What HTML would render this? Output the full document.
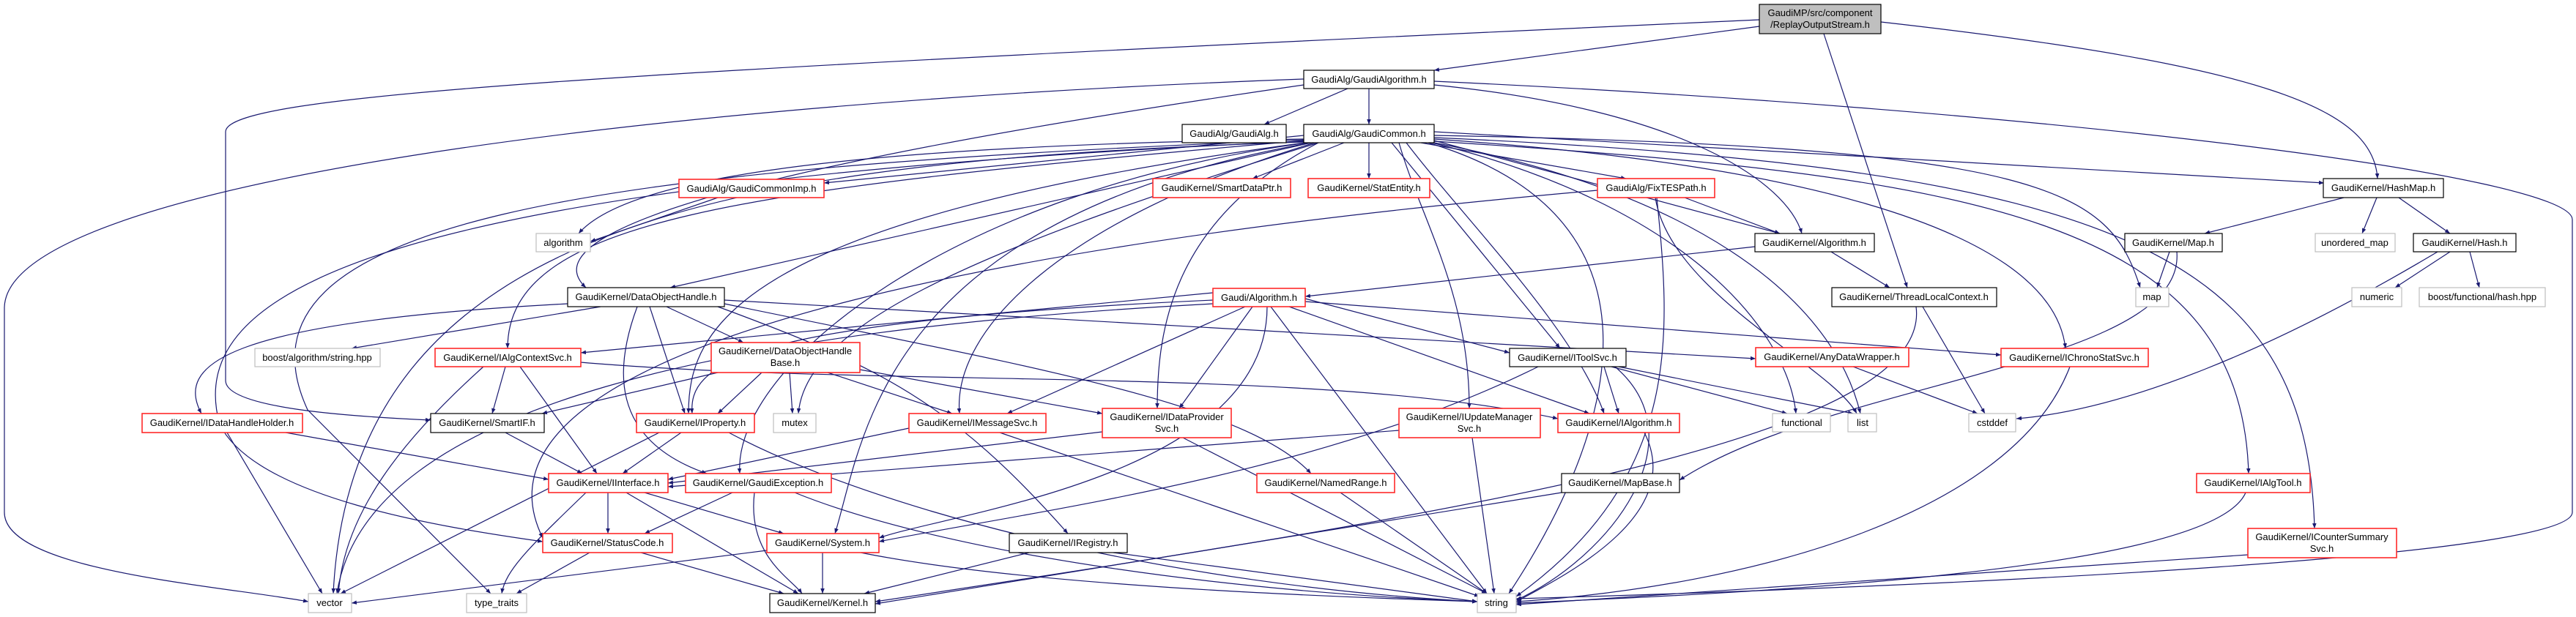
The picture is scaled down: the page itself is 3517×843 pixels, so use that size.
<!DOCTYPE html>
<html><head><meta charset="utf-8">
<style>
html,body{margin:0;padding:0;background:#fff;}
svg{display:block;}
text{font-family:"Liberation Sans",sans-serif;font-size:13px;fill:#000;text-anchor:middle;}
.e{fill:none;stroke:#191970;stroke-width:1.2;marker-end:url(#a);}
.nb{fill:#fff;stroke:#000;stroke-width:1.2;}
.nr{fill:#fff;stroke:#ff2a2a;stroke-width:1.6;}
.ng{fill:#fff;stroke:#bfbfbf;stroke-width:1.2;}
.nt{fill:#bfbfbf;stroke:#000;stroke-width:1.2;}
</style></head><body>
<svg width="3517" height="843" viewBox="0 0 3517 843" xmlns="http://www.w3.org/2000/svg">
<defs><marker id="a" viewBox="0 0 10 10" refX="10" refY="5" markerWidth="7" markerHeight="7" orient="auto" markerUnits="userSpaceOnUse"><path d="M0,1 L10,5 L0,9 z" fill="#191970"/></marker></defs>
<g>
<path class="e" d="M2402,36 L1958,96"/>
<path class="e" d="M2568,30 C3100,90 3240,150 3246,244"/>
<path class="e" d="M2490,46 L2604,393"/>
<path class="e" d="M2402,27 C800,100 308,130 308,180 L308,520 C308,560 500,570 588,574"/>
<path class="e" d="M1840,121 L1726,170"/>
<path class="e" d="M1869,121 L1869,170"/>
<path class="e" d="M1958,116 C2300,150 2440,250 2460,319"/>
<path class="e" d="M1958,111 C2800,150 3512,240 3512,300 L3512,700 C3512,760 2700,800 2070,818"/>
<path class="e" d="M1780,108 C900,140 10,250 6,420 L6,700 C6,780 300,800 421,822"/>
<path class="e" d="M1780,116 C1200,200 700,300 800,393"/>
<path class="e" d="M1835,195 L1710,244"/>
<path class="e" d="M1869,195 L1869,244"/>
<path class="e" d="M1940,195 L2220,244"/>
<path class="e" d="M1780,185 L1125,250"/>
<path class="e" d="M1780,190 C1100,200 850,250 790,319"/>
<path class="e" d="M1790,195 L915,393"/>
<path class="e" d="M1780,192 C1000,260 693,300 693,476"/>
<path class="e" d="M1958,180 L3173,250"/>
<path class="e" d="M1958,185 C2800,200 2880,260 2922,393"/>
<path class="e" d="M1958,190 C2400,220 2800,300 2820,476"/>
<path class="e" d="M1900,195 L2130,476"/>
<path class="e" d="M1958,193 C2700,240 3060,300 3070,647"/>
<path class="e" d="M1958,188 C2900,230 3150,350 3160,722"/>
<path class="e" d="M1910,195 C1940,300 2006,400 2006,558"/>
<path class="e" d="M1920,195 C2000,300 2150,450 2190,565"/>
<path class="e" d="M1800,195 C1600,300 1580,450 1580,558"/>
<path class="e" d="M1795,195 C1450,300 1300,450 1310,565"/>
<path class="e" d="M1785,195 C1300,260 1000,500 1010,647"/>
<path class="e" d="M1790,195 C1200,300 1180,600 1140,729"/>
<path class="e" d="M1780,193 C500,250 250,400 300,580 C350,680 600,720 741,740"/>
<path class="e" d="M1780,194 C1000,220 480,300 455,811"/>
<path class="e" d="M1950,195 C2300,300 2200,600 2060,811"/>
<path class="e" d="M1958,195 C2300,260 2500,400 2540,565"/>
<path class="e" d="M1955,195 C2300,280 2440,450 2452,565"/>
<path class="e" d="M1800,195 C1300,350 1100,450 1090,565"/>
<path class="e" d="M1958,192 L2430,319"/>
<path class="e" d="M1782,195 C1000,300 940,450 940,565"/>
<path class="e" d="M1780,191 C800,230 300,300 420,560 L670,811"/>
<path class="e" d="M980,270 L806,330"/>
<path class="e" d="M2300,270 L2430,319"/>
<path class="e" d="M2260,270 C2280,400 2500,500 2535,565"/>
<path class="e" d="M2181,260 C1500,320 600,450 741,735"/>
<path class="e" d="M2262,270 C2280,450 2300,650 2070,815"/>
<path class="e" d="M2396,337 L1782,405"/>
<path class="e" d="M2500,344 L2580,393"/>
<path class="e" d="M3200,270 L3010,319"/>
<path class="e" d="M3245,270 L3225,319"/>
<path class="e" d="M3275,270 L3345,319"/>
<path class="e" d="M2962,344 L2945,393"/>
<path class="e" d="M2972,344 C2985,500 2500,520 2293,656"/>
<path class="e" d="M3345,344 L3270,393"/>
<path class="e" d="M3372,344 L3385,393"/>
<path class="e" d="M3328,344 C3100,480 2900,560 2753,572"/>
<path class="e" d="M2625,419 L2710,565"/>
<path class="e" d="M2616,419 C2640,600 2000,700 1195,822"/>
<path class="e" d="M820,419 L480,476"/>
<path class="e" d="M910,419 L1015,468"/>
<path class="e" d="M887,419 L935,565"/>
<path class="e" d="M775,415 C300,440 240,500 275,565"/>
<path class="e" d="M870,419 C840,500 830,600 965,647"/>
<path class="e" d="M980,419 C1200,500 1300,550 1458,729"/>
<path class="e" d="M989,410 L2397,490"/>
<path class="e" d="M989,415 C1400,500 1700,550 1790,647"/>
<path class="e" d="M1656,400 L793,482"/>
<path class="e" d="M1782,408 L2061,482"/>
<path class="e" d="M1782,412 L2732,485"/>
<path class="e" d="M1656,410 C1000,440 940,500 945,565"/>
<path class="e" d="M1700,419 L1375,565"/>
<path class="e" d="M1710,419 L1610,558"/>
<path class="e" d="M1735,419 L2030,811"/>
<path class="e" d="M1760,419 L2170,565"/>
<path class="e" d="M1730,419 C1730,650 1300,700 1200,735"/>
<path class="e" d="M1656,415 C1000,450 500,550 460,811"/>
<path class="e" d="M690,501 L672,565"/>
<path class="e" d="M710,501 L815,647"/>
<path class="e" d="M660,501 C550,600 470,700 462,811"/>
<path class="e" d="M793,495 C1200,530 1800,500 2127,572"/>
<path class="e" d="M980,509 L740,565"/>
<path class="e" d="M1040,509 L980,565"/>
<path class="e" d="M1078,509 L1082,565"/>
<path class="e" d="M1130,509 L1300,565"/>
<path class="e" d="M1174,505 L1505,565"/>
<path class="e" d="M390,591 L749,655"/>
<path class="e" d="M310,591 L440,811"/>
<path class="e" d="M690,591 L795,647"/>
<path class="e" d="M930,591 L850,647"/>
<path class="e" d="M900,591 L465,811"/>
<path class="e" d="M995,591 C1200,700 1600,800 2017,822"/>
<path class="e" d="M830,673 L830,729"/>
<path class="e" d="M880,673 L1070,729"/>
<path class="e" d="M855,673 L1090,811"/>
<path class="e" d="M800,673 C720,750 690,780 685,811"/>
<path class="e" d="M1000,673 L880,729"/>
<path class="e" d="M1030,673 C1020,760 1080,790 1095,811"/>
<path class="e" d="M1085,673 C1300,760 1700,810 2017,822"/>
<path class="e" d="M805,755 L705,811"/>
<path class="e" d="M875,755 L1070,811"/>
<path class="e" d="M1047,752 L480,824"/>
<path class="e" d="M1123,755 L1123,811"/>
<path class="e" d="M1175,755 C1400,800 1800,815 2017,822"/>
<path class="e" d="M1241,585 L912,655"/>
<path class="e" d="M1365,591 L2020,815"/>
<path class="e" d="M1505,590 L912,660"/>
<path class="e" d="M1615,598 L2030,811"/>
<path class="e" d="M1910,588 L912,665"/>
<path class="e" d="M2010,598 L2040,811"/>
<path class="e" d="M2245,591 C2300,700 2150,780 2070,822"/>
<path class="e" d="M2190,501 L2210,565"/>
<path class="e" d="M2200,501 L2440,565"/>
<path class="e" d="M2210,501 L2530,565"/>
<path class="e" d="M2205,501 C2320,600 2200,760 2070,820"/>
<path class="e" d="M2100,501 C1800,650 1400,700 1200,740"/>
<path class="e" d="M1830,673 L2030,811"/>
<path class="e" d="M2132,673 L1195,825"/>
<path class="e" d="M1405,755 L1180,811"/>
<path class="e" d="M1520,755 L2017,822"/>
<path class="e" d="M2530,501 L2700,565"/>
<path class="e" d="M2826,501 C2750,700 2400,800 2070,822"/>
<path class="e" d="M3066,673 C3020,780 2400,810 2070,824"/>
<path class="e" d="M3069,758 L2070,826"/>
</g>
<g>
<rect class="nt" x="2402" y="6" width="166" height="40"/><text x="2485" y="22">GaudiMP/src/component</text><text x="2485" y="38">/ReplayOutputStream.h</text>
<rect class="nb" x="1780" y="96" width="178" height="25"/><text x="1869" y="113">GaudiAlg/GaudiAlgorithm.h</text>
<rect class="nb" x="1614" y="170" width="142" height="25"/><text x="1685" y="187">GaudiAlg/GaudiAlg.h</text>
<rect class="nb" x="1780" y="170" width="178" height="25"/><text x="1869" y="187">GaudiAlg/GaudiCommon.h</text>
<rect class="nr" x="1574" y="244" width="188" height="26"/><text x="1668" y="261">GaudiKernel/SmartDataPtr.h</text>
<rect class="nr" x="1786" y="244" width="166" height="26"/><text x="1869" y="261">GaudiKernel/StatEntity.h</text>
<rect class="nr" x="2181" y="244" width="160" height="26"/><text x="2261" y="261">GaudiAlg/FixTESPath.h</text>
<rect class="nr" x="927" y="245" width="198" height="25"/><text x="1026" y="262">GaudiAlg/GaudiCommonImp.h</text>
<rect class="ng" x="732" y="319" width="74" height="25"/><text x="769" y="336">algorithm</text>
<rect class="nb" x="775" y="393" width="214" height="26"/><text x="882" y="410">GaudiKernel/DataObjectHandle.h</text>
<rect class="nr" x="1656" y="394" width="126" height="25"/><text x="1719" y="411">Gaudi/Algorithm.h</text>
<rect class="nb" x="2396" y="319" width="163" height="25"/><text x="2477" y="336">GaudiKernel/Algorithm.h</text>
<rect class="nb" x="2501" y="393" width="225" height="26"/><text x="2613" y="410">GaudiKernel/ThreadLocalContext.h</text>
<rect class="ng" x="2916" y="393" width="45" height="26"/><text x="2938" y="410">map</text>
<rect class="nb" x="2901" y="319" width="133" height="25"/><text x="2967" y="336">GaudiKernel/Map.h</text>
<rect class="nb" x="3172" y="244" width="164" height="26"/><text x="3254" y="261">GaudiKernel/HashMap.h</text>
<rect class="ng" x="3161" y="319" width="109" height="25"/><text x="3215" y="336">unordered_map</text>
<rect class="nb" x="3295" y="319" width="140" height="25"/><text x="3365" y="336">GaudiKernel/Hash.h</text>
<rect class="ng" x="3211" y="393" width="68" height="26"/><text x="3245" y="410">numeric</text>
<rect class="ng" x="3303" y="393" width="172" height="26"/><text x="3389" y="410">boost/functional/hash.hpp</text>
<rect class="ng" x="348" y="476" width="171" height="25"/><text x="433" y="493">boost/algorithm/string.hpp</text>
<rect class="nr" x="594" y="476" width="199" height="25"/><text x="693" y="493">GaudiKernel/IAlgContextSvc.h</text>
<rect class="nr" x="971" y="468" width="203" height="41"/><text x="1072" y="484">GaudiKernel/DataObjectHandle</text><text x="1072" y="500">Base.h</text>
<rect class="nr" x="194" y="565" width="219" height="26"/><text x="303" y="582">GaudiKernel/IDataHandleHolder.h</text>
<rect class="nb" x="588" y="565" width="155" height="26"/><text x="665" y="582">GaudiKernel/SmartIF.h</text>
<rect class="nr" x="869" y="565" width="161" height="26"/><text x="949" y="582">GaudiKernel/IProperty.h</text>
<rect class="ng" x="1056" y="565" width="58" height="26"/><text x="1085" y="582">mutex</text>
<rect class="nr" x="749" y="647" width="163" height="26"/><text x="830" y="664">GaudiKernel/IInterface.h</text>
<rect class="nr" x="936" y="647" width="199" height="26"/><text x="1035" y="664">GaudiKernel/GaudiException.h</text>
<rect class="nr" x="741" y="729" width="177" height="26"/><text x="829" y="746">GaudiKernel/StatusCode.h</text>
<rect class="nr" x="1047" y="729" width="153" height="26"/><text x="1123" y="746">GaudiKernel/System.h</text>
<rect class="ng" x="421" y="811" width="59" height="26"/><text x="450" y="828">vector</text>
<rect class="ng" x="637" y="811" width="82" height="26"/><text x="678" y="828">type_traits</text>
<rect class="nb" x="1051" y="811" width="144" height="26"/><text x="1123" y="828">GaudiKernel/Kernel.h</text>
<rect class="nr" x="1241" y="565" width="187" height="26"/><text x="1334" y="582">GaudiKernel/IMessageSvc.h</text>
<rect class="nr" x="1505" y="558" width="176" height="40"/><text x="1593" y="574">GaudiKernel/IDataProvider</text><text x="1593" y="590">Svc.h</text>
<rect class="nr" x="1910" y="558" width="193" height="40"/><text x="2006" y="574">GaudiKernel/IUpdateManager</text><text x="2006" y="590">Svc.h</text>
<rect class="nr" x="2127" y="565" width="166" height="26"/><text x="2210" y="582">GaudiKernel/IAlgorithm.h</text>
<rect class="nb" x="2061" y="476" width="159" height="25"/><text x="2140" y="493">GaudiKernel/IToolSvc.h</text>
<rect class="nr" x="1716" y="647" width="188" height="26"/><text x="1810" y="664">GaudiKernel/NamedRange.h</text>
<rect class="nb" x="2132" y="647" width="161" height="26"/><text x="2212" y="664">GaudiKernel/MapBase.h</text>
<rect class="nb" x="1378" y="729" width="161" height="26"/><text x="1458" y="746">GaudiKernel/IRegistry.h</text>
<rect class="ng" x="2017" y="811" width="53" height="26"/><text x="2043" y="828">string</text>
<rect class="nr" x="2397" y="475" width="209" height="26"/><text x="2501" y="492">GaudiKernel/AnyDataWrapper.h</text>
<rect class="nr" x="2732" y="476" width="201" height="25"/><text x="2832" y="493">GaudiKernel/IChronoStatSvc.h</text>
<rect class="ng" x="2420" y="565" width="79" height="25"/><text x="2460" y="582">functional</text>
<rect class="ng" x="2523" y="565" width="39" height="25"/><text x="2543" y="582">list</text>
<rect class="ng" x="2688" y="565" width="64" height="25"/><text x="2720" y="582">cstddef</text>
<rect class="nr" x="2999" y="647" width="155" height="26"/><text x="3076" y="664">GaudiKernel/IAlgTool.h</text>
<rect class="nr" x="3069" y="722" width="203" height="40"/><text x="3170" y="738">GaudiKernel/ICounterSummary</text><text x="3170" y="754">Svc.h</text>
</g>
</svg>
</body></html>
